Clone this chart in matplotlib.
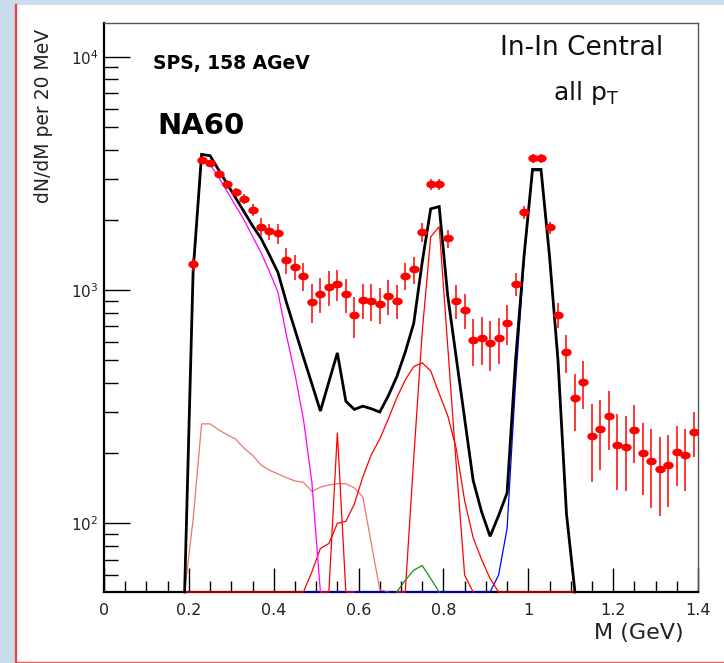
import numpy as np
import matplotlib

matplotlib.use("Agg")
import matplotlib.pyplot as plt
from matplotlib.lines import Line2D
from matplotlib.patches import Rectangle
from matplotlib.path import Path
from matplotlib.ticker import FuncFormatter, MultipleLocator, LogLocator, NullFormatter
from matplotlib.transforms import Affine2D

W, H = 724, 663
YMIN, YMAX = 50.8, 14000.0
BIN = 0.02

# measured dimuon mass spectrum (20 MeV bins, first centre 0.21 GeV)
FIRST_BIN = 0.21
counts = [1290, 3600, 3490, 3160, 2840, 2620, 2460, 2200, 1870, 1785,
          1750, 1345, 1260, 1150, 891, 961, 1027, 1061, 961, 779,
          906, 900, 868, 943, 900, 1152, 1227, 1773, 2838, 2838,
          1666, 900, 821, 611, 621, 594, 621, 720, 1061, 2153,
          3668, 3668, 1857, 781, 541, 343, 402, 237, 254, 288,
          217, 213, 251, 201, 185, 171, 178, 203, 196, 246]
errors = [80, 120, 120, 120, 120, 120, 130, 130, 160, 140,
          170, 170, 160, 160, 170, 165, 175, 160, 160, 158,
          155, 160, 150, 160, 150, 150, 160, 160, 150, 150,
          150, 150, 140, 140, 145, 143, 140, 140, 120, 130,
          150, 150, 110, 95, 100, 95, 94, 87, 84, 82,
          78, 75, 70, 69, 69, 63, 61, 59, 58, 54]

# cocktail components, one value per bin starting at the given centre
total_start = 0.19
total = [45, 1200, 3816, 3767, 3281, 2858, 2489, 2168, 1888, 1667,
         1413, 1189, 885, 676, 516, 396, 303, 404, 538, 334,
         308, 318, 310, 300, 352, 425, 542, 720, 1318, 2230,
         2280, 950, 516, 281, 153, 112, 88, 108, 135, 500,
         1400, 3290, 3290, 1400, 500, 110, 40]

eta_dalitz_start = 0.19
eta_dalitz = [45, 1150, 3650, 3450, 3050, 2650, 2300, 2000, 1700, 1450,
              1200, 980, 640, 437, 280, 150, 48]

omega_dalitz_start = 0.19
omega_dalitz = [42, 104, 267, 267, 252, 240, 230, 210, 196, 178,
                169, 163, 157, 152, 150, 137, 143, 146, 148, 148,
                142, 130, 82, 52, 30]

eta_start = 0.51
eta = [5, 50, 245, 50, 5]

rho_start = 0.19
rho = [10, 10, 10, 10, 10, 10, 10, 10, 10, 10,
       10, 10, 10, 10, 45, 62, 78, 82, 100, 102,
       121, 158, 197, 230, 280, 345, 412, 470, 488, 450,
       360, 290, 210, 125, 87, 70, 58, 45, 40, 40,
       40, 40, 40, 40, 40, 40, 40]

omega_start = 0.69
omega = [10, 50, 190, 660, 1690, 1870, 580, 180, 60, 20]

etaprime_start = 0.69
etaprime = [49, 57, 63, 66, 58, 48]

phi_start = 0.47
phi = [10, 10, 10, 10, 10, 10, 10, 10, 10, 10,
       10, 10, 10, 10, 10, 10, 10, 10, 10, 10,
       10, 10, 45, 60, 95, 400, 1350, 3250, 3250, 1380,
       490, 108, 39]


def centres(start, values):
    return start + BIN * np.arange(len(values))


def draw_curve(ax, start, values, color, lw, z):
    # values under the frame minimum sit on the lower edge, as in ROOT
    y = np.maximum(np.asarray(values, float), YMIN)
    ax.plot(centres(start, values), y, color=color, lw=lw, zorder=z,
            clip_on=False, solid_joinstyle="miter")


fig = plt.figure(figsize=(W / 100, H / 100), dpi=100)
fig.patch.set_facecolor("#c9dcec")

# white slide panel with red edges
fig.add_artist(Rectangle((15 / W, 0), 1 - 15 / W, 1 - 5 / H, transform=fig.transFigure,
                         facecolor="white", edgecolor="none", zorder=0))
fig.add_artist(Line2D([16 / W, 16 / W], [0, 1 - 5 / H], transform=fig.transFigure,
                      color="#f03c3c", lw=1.6, zorder=1))
fig.add_artist(Line2D([15 / W, 1], [1.2 / H, 1.2 / H], transform=fig.transFigure,
                      color="#e06060", lw=1.0, zorder=1))

ax = fig.add_axes([104 / W, 1 - 592 / H, (698 - 104) / W, (592 - 22.7) / H])
ax.set_facecolor("white")
ax.set_yscale("log")
ax.set_xlim(0, 1.4)
ax.set_ylim(YMIN, YMAX)

draw_curve(ax, omega_dalitz_start, omega_dalitz, "#e8776f", 0.9, 3)
draw_curve(ax, phi_start, phi, "#0000ff", 0.9, 3.1)
draw_curve(ax, rho_start, rho, "#ff0000", 0.9, 3.2)
draw_curve(ax, eta_start, eta, "#ff0000", 0.9, 3.2)
draw_curve(ax, omega_start, omega, "#ff0000", 0.9, 3.2)
draw_curve(ax, etaprime_start, etaprime, "#1a8c1a", 0.9, 3.3)
draw_curve(ax, eta_dalitz_start, eta_dalitz, "#ff00ff", 0.9, 3.4)
draw_curve(ax, total_start, total, "black", 2.0, 3.6)

# data points: filled ellipses with statistical error bars
mass = centres(FIRST_BIN, counts)
ellipse = Path.unit_circle().transformed(Affine2D().scale(1.45, 1.0))
ax.errorbar(mass, counts, yerr=errors, fmt="none", ecolor="#ff0000",
            elinewidth=1.1, capsize=0, zorder=5)
ax.plot(mass, counts, ls="none", marker=ellipse, ms=6.5, color="#ff0000",
        mec="#ff0000", zorder=6)

# frame: heavy axis lines on left/bottom, thin grey box elsewhere
for side in ("left", "bottom"):
    ax.spines[side].set_linewidth(1.6)
    ax.spines[side].set_color("black")
for side in ("top", "right"):
    ax.spines[side].set_linewidth(1.0)
    ax.spines[side].set_color("#555555")

ax.xaxis.set_major_locator(MultipleLocator(0.2))
ax.xaxis.set_minor_locator(MultipleLocator(0.05))
ax.xaxis.set_major_formatter(FuncFormatter(lambda v, _: f"{v:g}"))
ax.yaxis.set_major_locator(LogLocator(base=10, numticks=10))
ax.yaxis.set_minor_locator(LogLocator(base=10, subs=np.arange(2, 10), numticks=20))
ax.yaxis.set_minor_formatter(NullFormatter())

ax.tick_params(axis="x", which="major", direction="in", length=17, width=1.0,
               pad=8, labelsize=11.5, labelcolor="#222222")
ax.tick_params(axis="x", which="minor", direction="in", length=8, width=1.0)
ax.tick_params(axis="y", which="major", direction="in", length=19, width=1.0,
               pad=4, labelsize=11, labelcolor="#222222")
ax.tick_params(axis="y", which="minor", direction="in", length=10, width=1.0)

fig.text(44 / W, 1 - 115.5 / H, "dN/dM per 20 MeV", rotation=90,
         ha="center", va="center", fontsize=13.5, color="#222222")
fig.text(684 / W, 1 - 633 / H, "M (GeV)", ha="right", va="center",
         fontsize=16, color="#222222")

fig.text(153 / W, 1 - 63.5 / H, "SPS, 158 AGeV", ha="left", va="center",
         fontsize=13.5, fontweight="bold", color="black")
fig.text(157 / W, 1 - 126 / H, "NA60", ha="left", va="center",
         fontsize=21, fontweight="bold", color="black")
fig.text(582 / W, 1 - 48 / H, "In-In Central", ha="center", va="center",
         fontsize=19, color="#111111")
fig.text(586 / W, 1 - 93 / H, r"all p$_\mathrm{T}$", ha="center", va="center",
         fontsize=18, color="#111111")

fig.savefig("out.png", dpi=100)
